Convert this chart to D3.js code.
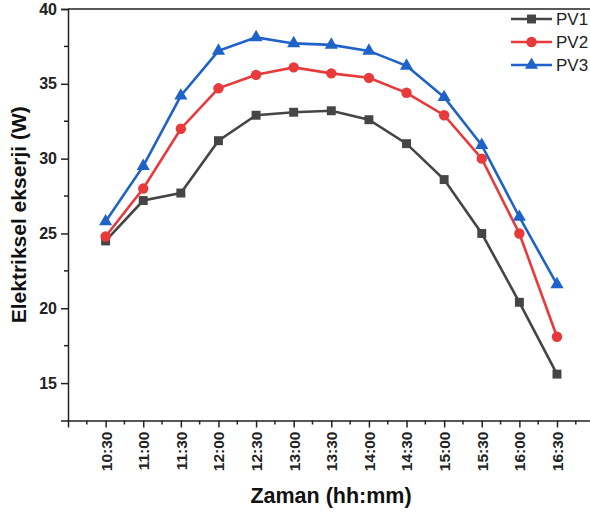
<!DOCTYPE html>
<html>
<head>
<meta charset="utf-8">
<script src="https://cdn.jsdelivr.net/npm/d3@7/dist/d3.min.js"></script>
<style>
  body { margin: 0; background: #fff; }
  svg { display: block; font-family: "Liberation Sans", Arial, sans-serif; }
</style>
</head>
<body>
<svg id="chart" width="590" height="513"></svg>
<script>
// Time labels on the x axis
const times = ['10:30', '11:00', '11:30', '12:00', '12:30', '13:00', '13:30',
               '14:00', '14:30', '15:00', '15:30', '16:00', '16:30'];

// Electrical exergy (W) per panel
const pv1 = [24.5, 27.2, 27.7, 31.2, 32.9, 33.1, 33.2, 32.6, 31.0, 28.6, 25.0, 20.4, 15.6];
const pv2 = [24.8, 28.0, 32.0, 34.7, 35.6, 36.1, 35.7, 35.4, 34.4, 32.9, 30.0, 25.0, 18.1];
const pv3 = [25.8, 29.5, 34.2, 37.2, 38.1, 37.7, 37.6, 37.2, 36.2, 34.1, 30.9, 26.1, 21.6];

const seriesNames = ['PV1', 'PV2', 'PV3'];
const yTicks = [15, 20, 25, 30, 35, 40];
const yMinorTicks = [17.5, 22.5, 27.5, 32.5, 37.5];

const series = [
  { name: seriesNames[0], values: pv1, color: '#454545', symbol: d3.symbolSquare, size: 80 },
  { name: seriesNames[1], values: pv2, color: '#e8393b', symbol: d3.symbolCircle, size: 85 },
  { name: seriesNames[2], values: pv3, color: '#1f63c9', symbol: d3.symbolTriangle, size: 75 }
];

const svg = d3.select('#chart');
const plot = { left: 68, right: 594.6, top: 9, bottom: 420.5 };

// index scale, one slot of padding at each side
const x = d3.scaleLinear().domain([-1, times.length]).range([plot.left, plot.right]);
const y = d3.scaleLinear().domain([12.5, 40]).range([plot.bottom, plot.top]);

// frame: top line
svg.append('line')
  .attr('x1', plot.left).attr('x2', plot.right)
  .attr('y1', plot.top).attr('y2', plot.top)
  .attr('stroke', '#222').attr('stroke-width', 1.5);

// y axis
const yAxis = svg.append('g')
  .attr('transform', `translate(${plot.left},0)`)
  .call(d3.axisLeft(y).tickValues(yTicks).tickSize(7).tickPadding(4).tickFormat(d3.format('d')));
yAxis.select('.domain').attr('stroke', '#222').attr('stroke-width', 1.5);
yAxis.selectAll('.tick line').attr('stroke', '#222').attr('stroke-width', 1.5);
yAxis.selectAll('.tick text')
  .attr('fill', '#222').attr('font-size', 16).attr('font-weight', 'bold')
  .attr('font-family', '"Liberation Sans", Arial, sans-serif');

// y minor ticks
svg.append('g').selectAll('line')
  .data(yMinorTicks)
  .enter().append('line')
  .attr('x1', plot.left - 4).attr('x2', plot.left)
  .attr('y1', d => y(d)).attr('y2', d => y(d))
  .attr('stroke', '#222').attr('stroke-width', 1.5);

// x axis
const xAxis = svg.append('g')
  .attr('transform', `translate(0,${plot.bottom})`)
  .call(d3.axisBottom(x).tickValues(d3.range(times.length)).tickSize(7).tickFormat(i => times[i]));
xAxis.select('.domain').attr('stroke', '#222').attr('stroke-width', 1.5);
xAxis.selectAll('.tick line').attr('stroke', '#222').attr('stroke-width', 1.5);
xAxis.selectAll('.tick text')
  .attr('fill', '#222').attr('font-size', 15.5).attr('font-weight', 'bold')
  .attr('font-family', '"Liberation Sans", Arial, sans-serif')
  .attr('transform', 'rotate(-90)')
  .attr('text-anchor', 'end')
  .attr('dy', '0.35em')
  .attr('x', -11).attr('y', 0);

// x minor ticks
svg.append('g').selectAll('line')
  .data(d3.range(-0.5, times.length, 1))
  .enter().append('line')
  .attr('x1', d => x(d)).attr('x2', d => x(d))
  .attr('y1', plot.bottom).attr('y2', plot.bottom + 4)
  .attr('stroke', '#222').attr('stroke-width', 1.5);

// lines and markers
const line = d3.line().x((d, i) => x(i)).y(d => y(d));
series.forEach(s => {
  svg.append('path')
    .datum(s.values)
    .attr('d', line)
    .attr('fill', 'none')
    .attr('stroke', s.color)
    .attr('stroke-width', 2.6);
  svg.append('g').selectAll('path')
    .data(s.values)
    .enter().append('path')
    .attr('d', d3.symbol().type(s.symbol).size(s.size))
    .attr('transform', (d, i) => `translate(${x(i)},${y(d)})`)
    .attr('fill', s.color);
});

// legend
const legend = svg.append('g').attr('transform', 'translate(511,0)');
series.forEach((s, k) => {
  const ly = 19 + k * 23;
  legend.append('line')
    .attr('x1', 0).attr('x2', 41).attr('y1', ly).attr('y2', ly)
    .attr('stroke', s.color).attr('stroke-width', 2.6);
  legend.append('path')
    .attr('d', d3.symbol().type(s.symbol).size(s.size))
    .attr('transform', `translate(20.5,${ly})`)
    .attr('fill', s.color);
  legend.append('text')
    .attr('x', 45).attr('y', ly).attr('dy', '0.36em')
    .attr('font-size', 17).attr('fill', '#222')
    .text(s.name);
});

// axis titles
svg.append('text')
  .attr('transform', `translate(26,${(plot.top + plot.bottom) / 2}) rotate(-90)`)
  .attr('text-anchor', 'middle')
  .attr('font-size', 21).attr('font-weight', 'bold').attr('fill', '#111')
  .text('Elektriksel ekserji (W)');

svg.append('text')
  .attr('x', 331).attr('y', 503)
  .attr('text-anchor', 'middle')
  .attr('font-size', 21.5).attr('font-weight', 'bold').attr('fill', '#111')
  .text('Zaman (hh:mm)');
</script>
</body>
</html>
